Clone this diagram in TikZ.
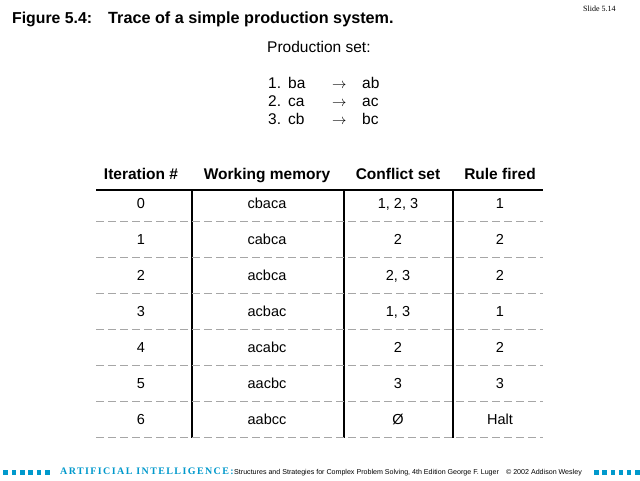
\documentclass[tikz,border=0pt]{standalone}
\usepackage{fontspec}
\setmainfont{Liberation Sans}
\newfontfamily\slidefont{Liberation Serif}
\newfontfamily\aifont[LetterSpace=14]{Liberation Serif Bold}
\definecolor{aiblue}{RGB}{0,153,204}

\begin{document}
\begin{tikzpicture}[x=1pt,y=-1pt,
  cell/.style={anchor=base,font=\fontsize{14.5}{16}\selectfont,inner sep=0pt},
  headcell/.style={anchor=base,font=\fontsize{15.5}{17}\selectfont\bfseries,inner sep=0pt},
  prod/.style={anchor=base west,font=\fontsize{15.5}{17}\selectfont,inner sep=0pt}]
\useasboundingbox[fill=white] (0,0) rectangle (640,480);

% title
\node[anchor=base west,inner sep=0pt,font=\fontsize{15.8}{18}\selectfont\bfseries] (fig) at (12,23) {Figure 5.4:};
\node[anchor=base west,inner sep=0pt,font=\fontsize{16.2}{18}\selectfont\bfseries] (title) at (108,23) {Trace of a simple production system.};
\node[anchor=base west,inner sep=0pt,font=\fontsize{8}{9}\slidefont] (slide) at (583,11) {Slide 5.14};

% production set
\node[prod] (pset) at (267,52) {Production set:};
\node[prod] (n1) at (268,88) {1.};  \node[prod] (l1) at (288,88) {ba};
\node[prod] (a1) at (332,88) {$\rightarrow$}; \node[prod] (r1) at (362,88) {ab};
\node[prod] (n2) at (268,106) {2.}; \node[prod] (l2) at (288,106) {ca};
\node[prod] (a2) at (332,106) {$\rightarrow$}; \node[prod] (r2) at (362,106) {ac};
\node[prod] (n3) at (268,124) {3.}; \node[prod] (l3) at (288,124) {cb};
\node[prod] (a3) at (332,124) {$\rightarrow$}; \node[prod] (r3) at (362,124) {bc};

% table header
\node[headcell] (hit) at (141,179) {Iteration \#};
\node[headcell] (hwm) at (267,179) {Working memory};
\node[headcell] (hcs) at (398,179) {Conflict set};
\node[headcell] (hrf) at (500,179) {Rule fired};

% table lines
\draw[line width=1.3pt] (96,190)--(543,190);
\draw[line width=1.3pt] (192,190)--(192,438);
\draw[line width=1.3pt] (344,190)--(344,438);
\draw[line width=1.3pt] (453,190)--(453,438);
\draw[gray!70,dash pattern=on 8pt off 4pt] (96,221.5)--(543,221.5);
\draw[gray!70,dash pattern=on 8pt off 4pt] (96,257.5)--(543,257.5);
\draw[gray!70,dash pattern=on 8pt off 4pt] (96,293.5)--(543,293.5);
\draw[gray!70,dash pattern=on 8pt off 4pt] (96,329.5)--(543,329.5);
\draw[gray!70,dash pattern=on 8pt off 4pt] (96,365.5)--(543,365.5);
\draw[gray!70,dash pattern=on 8pt off 4pt] (96,401.5)--(543,401.5);
\draw[gray!70,dash pattern=on 8pt off 4pt] (96,437.5)--(543,437.5);

% table rows
\node[cell] (it0) at (141,208.5) {0}; \node[cell] (wm0) at (267,208.5) {cbaca};
\node[cell] (cs0) at (398,208.5) {1, 2, 3}; \node[cell] (rf0) at (500,208.5) {1};
\node[cell] (it1) at (141,244.5) {1}; \node[cell] (wm1) at (267,244.5) {cabca};
\node[cell] (cs1) at (398,244.5) {2}; \node[cell] (rf1) at (500,244.5) {2};
\node[cell] (it2) at (141,280.5) {2}; \node[cell] (wm2) at (267,280.5) {acbca};
\node[cell] (cs2) at (398,280.5) {2, 3}; \node[cell] (rf2) at (500,280.5) {2};
\node[cell] (it3) at (141,316.5) {3}; \node[cell] (wm3) at (267,316.5) {acbac};
\node[cell] (cs3) at (398,316.5) {1, 3}; \node[cell] (rf3) at (500,316.5) {1};
\node[cell] (it4) at (141,352.5) {4}; \node[cell] (wm4) at (267,352.5) {acabc};
\node[cell] (cs4) at (398,352.5) {2}; \node[cell] (rf4) at (500,352.5) {2};
\node[cell] (it5) at (141,388.5) {5}; \node[cell] (wm5) at (267,388.5) {aacbc};
\node[cell] (cs5) at (398,388.5) {3}; \node[cell] (rf5) at (500,388.5) {3};
\node[cell] (it6) at (141,424.5) {6}; \node[cell] (wm6) at (267,424.5) {aabcc};
\node[cell] (cs6) at (398,424.5) {Ø}; \node[cell] (rf6) at (500,424.5) {Halt};

% footer banner
\fill[aiblue] (3.3,469.5) rectangle (8,474.5);
\fill[aiblue] (11.6,469.5) rectangle (16.3,474.5);
\fill[aiblue] (19.9,469.5) rectangle (24.6,474.5);
\fill[aiblue] (28.2,469.5) rectangle (32.9,474.5);
\fill[aiblue] (36.5,469.5) rectangle (41.2,474.5);
\fill[aiblue] (44.8,469.5) rectangle (49.5,474.5);
\node[anchor=base west,inner sep=0pt,text=aiblue,font=\fontsize{10}{10}\aifont] (ai) at (60,474.5) {ARTIFICIAL INTELLIGENCE:};
\node[anchor=base west,inner sep=0pt,font=\fontsize{7.1}{7}\selectfont] (book) at (234,474.5) {Structures and Strategies for Complex Problem Solving, 4th Edition George F. Luger\quad © 2002 Addison Wesley};
\fill[aiblue] (594.3,469.5) rectangle (599,474.5);
\fill[aiblue] (602.4,469.5) rectangle (607.1,474.5);
\fill[aiblue] (610.5,469.5) rectangle (615.2,474.5);
\fill[aiblue] (618.6,469.5) rectangle (623.3,474.5);
\fill[aiblue] (626.7,469.5) rectangle (631.4,474.5);
\fill[aiblue] (634.8,469.5) rectangle (639.5,474.5);

\end{tikzpicture}
\end{document}
